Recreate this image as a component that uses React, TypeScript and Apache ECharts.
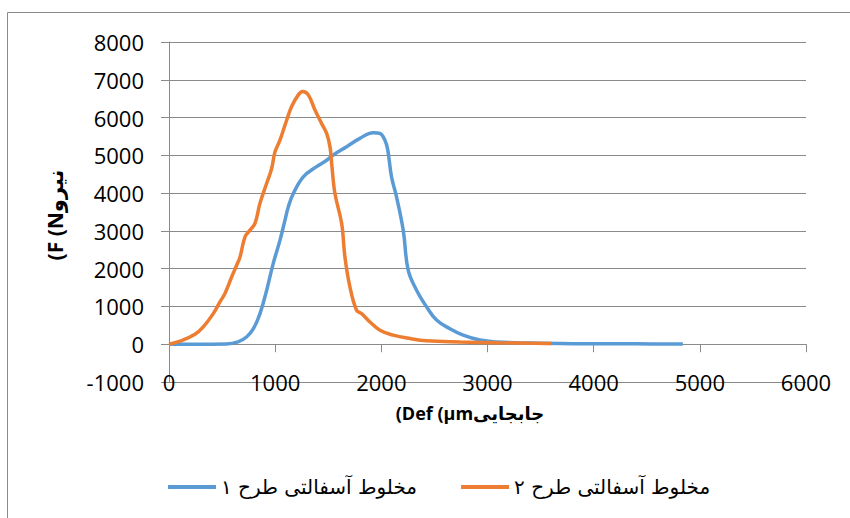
import React, { useEffect, useRef } from "react";
import * as echarts from "echarts";

const seriesNames = ["مخلوط آسفالتی طرح ۱", "مخلوط آسفالتی طرح ۲"];
const xTitle = "(Def (µmجابجایی";
const yTitle = "(F (Nنیرو";

// [deformation µm, force N]
const mix1: [number, number][] = [
  [0, 0], [230, 0], [540, 5], [650, 60], [730, 190], [795, 410], [857, 810],
  [920, 1430], [982, 2140], [1045, 2750], [1092, 3280], [1124, 3640], [1171, 3990],
  [1265, 4430], [1390, 4700], [1485, 4870], [1547, 5010], [1673, 5230], [1798, 5450],
  [1924, 5600], [1987, 5580], [2034, 5400], [2060, 5150], [2096, 4430], [2143, 3900],
  [2206, 3020], [2253, 1960], [2332, 1430], [2426, 990], [2520, 640], [2646, 410],
  [2771, 240], [2928, 110], [3085, 60], [3400, 30], [3800, 15], [4400, 10], [4840, 5],
];
const mix2: [number, number][] = [
  [0, 0], [104, 80], [245, 265], [323, 460], [417, 810], [480, 1120], [527, 1340],
  [590, 1780], [637, 2090], [669, 2310], [716, 2840], [763, 3020], [810, 3200],
  [857, 3730], [920, 4260], [967, 4650], [998, 5090], [1045, 5400], [1108, 5930],
  [1155, 6290], [1218, 6600], [1259, 6690], [1312, 6600], [1375, 6200], [1438, 5840],
  [1485, 5580], [1516, 5230], [1532, 4790], [1563, 3990], [1626, 3200], [1657, 2310],
  [1704, 1520], [1767, 900], [1814, 810], [1893, 590], [1987, 370], [2112, 240],
  [2269, 150], [2426, 90], [2740, 60], [3100, 40], [3600, 20],
];

const xMin = 0, xMax = 6000, xStep = 1000;
const yMin = -1000, yMax = 8000, yStep = 1000;

const colors = ["#5B9BD5", "#ED7D31"];
const gridColor = "#8a8a8a";
const latin = "'Open Sans', 'DejaVu Sans', sans-serif";
const arabic = "'DejaVu Sans', 'Open Sans', sans-serif";
const plain = (v: number) => String(v);

export default function App() {
  const ref = useRef<HTMLDivElement>(null);
  useEffect(() => {
    if (!ref.current) return;
    const chart = echarts.init(ref.current, null, { renderer: "svg" });
    chart.setOption({
      animation: false,
      backgroundColor: "#fff",
      grid: { left: 169, right: 44, top: 42, bottom: 136, containLabel: false },
      legend: {
        left: 163,
        top: 472,
        itemWidth: 48,
        itemHeight: 4,
        itemGap: 44,
        icon: "rect",
        textStyle: { fontSize: 20, color: "#000", fontFamily: arabic },
        data: seriesNames,
      },
      xAxis: [
        {
          type: "value",
          min: xMin,
          max: xMax,
          interval: xStep,
          axisLine: { show: true, onZero: true, lineStyle: { color: gridColor, width: 1 } },
          axisTick: { show: true, inside: false, length: 8, lineStyle: { color: gridColor } },
          axisLabel: { show: false },
          splitLine: { show: false },
        },
        {
          type: "value",
          position: "bottom",
          min: xMin,
          max: xMax,
          interval: xStep,
          axisLine: { show: false, onZero: false },
          axisTick: { show: false },
          axisLabel: {
            margin: 0,
            verticalAlign: "middle",
            fontSize: 22,
            color: "#000",
            fontFamily: latin,
            formatter: plain,
          },
          splitLine: { show: false },
        },
      ],
      yAxis: {
        type: "value",
        min: yMin,
        max: yMax,
        interval: yStep,
        axisLine: { show: true, onZero: false, lineStyle: { color: gridColor, width: 1 } },
        axisTick: { show: true, inside: false, length: 8, lineStyle: { color: gridColor } },
        axisLabel: { margin: 25, fontSize: 22, color: "#000", fontFamily: latin, formatter: plain },
        splitLine: { show: true, lineStyle: { color: gridColor, width: 1 } },
      },
      graphic: [
        {
          type: "rect",
          shape: { x: 7.5, y: 12.5, width: 900, height: 600 },
          style: { fill: "none", stroke: gridColor, lineWidth: 1 },
          silent: true,
        },
        {
          type: "text",
          x: 470,
          y: 413,
          style: {
            text: xTitle,
            fontSize: 18,
            fontWeight: "bold",
            fontFamily: latin,
            fill: "#000",
            align: "center",
            verticalAlign: "middle",
          },
        },
        {
          type: "text",
          x: 55,
          y: 215,
          rotation: Math.PI / 2,
          style: {
            text: yTitle,
            fontSize: 21,
            fontWeight: "bold",
            fontFamily: latin,
            fill: "#000",
            align: "center",
            verticalAlign: "middle",
          },
        },
      ],
      series: [
        {
          name: seriesNames[0],
          type: "line",
          xAxisIndex: 0,
          data: mix1,
          symbol: "none",
          smooth: 0.4,
          lineStyle: { color: colors[0], width: 3.5 },
          itemStyle: { color: colors[0] },
        },
        {
          name: seriesNames[1],
          type: "line",
          xAxisIndex: 0,
          data: mix2,
          symbol: "none",
          smooth: 0.4,
          lineStyle: { color: colors[1], width: 3.5 },
          itemStyle: { color: colors[1] },
        },
      ],
    });
    return () => chart.dispose();
  }, []);
  return (
    <div
      ref={ref}
      style={{ position: "absolute", left: 0, top: 0, width: 850, height: 518, background: "#fff" }}
    />
  );
}
